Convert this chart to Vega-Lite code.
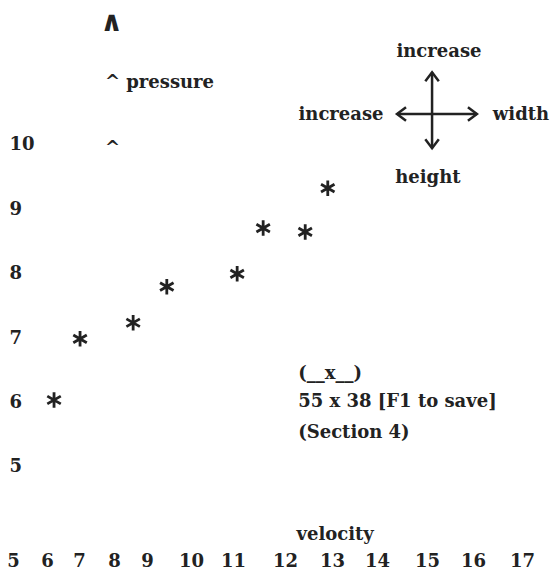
{
  "$schema": "https://vega.github.io/schema/vega-lite/v6.json",
  "width": 552,
  "height": 548,
  "autosize": "none",
  "padding": {"left": 0, "top": 0, "right": 0, "bottom": 23},
  "background": "white",
  "config": {
    "view": {"stroke": null},
    "axis": {"grid": false, "domain": false, "ticks": false, "tickSize": 0, "labelFont": "DejaVu Serif", "labelFontSize": 18, "labelFontWeight": "bold", "labelColor": "#222"},
    "text": {"font": "DejaVu Serif", "fontSize": 18, "fontWeight": "bold", "color": "#222"}
  },
  "layer": [
    {
      "data": {"values": [
        {"velocity": 6.22, "pressure": 6.04},
        {"velocity": 7.03, "pressure": 6.99},
        {"velocity": 8.58, "pressure": 7.24},
        {"velocity": 9.45, "pressure": 7.80},
        {"velocity": 11.08, "pressure": 8.0},
        {"velocity": 11.58, "pressure": 8.71},
        {"velocity": 12.43, "pressure": 8.65},
        {"velocity": 12.91, "pressure": 9.33}
      ]},
      "mark": {"type": "point", "shape": "M0,-1L0,1M-0.87,-0.5L0.87,0.5M-0.87,0.5L0.87,-0.5", "filled": false, "size": 240, "strokeWidth": 2.8, "color": "#222", "opacity": 1},
      "encoding": {
        "x": {"field": "velocity", "type": "quantitative", "title": null,
              "scale": {"domain": [5, 6, 7, 8, 9, 10, 11, 12, 13, 14, 15, 16, 17], "range": [13, 47, 79, 114, 147, 191, 233, 285, 332, 377, 427, 473, 522], "nice": false, "zero": false},
              "axis": {"values": [5, 6, 7, 8, 9, 10, 11, 12, 13, 14, 15, 16, 17], "format": "d", "labelPadding": 4, "labelAlign": "center", "labelFlush": false, "labelOverlap": false}},
        "y": {"field": "pressure", "type": "quantitative", "title": null,
              "scale": {"domain": [3.742, 12.2516], "nice": false, "zero": false},
              "axis": {"values": [5, 6, 7, 8, 9, 10], "format": "d", "labelAlign": "left", "labelPadding": -9, "labelFlush": false, "labelOverlap": false}}
      }
    },
    {
      "data": {"values": [
        {"x": 15.11, "y": 9.95, "x2": 15.11, "y2": 11.13},
        {"x": 14.4, "y": 10.48, "x2": 16.08, "y2": 10.48}
      ]},
      "mark": {"type": "rule", "strokeWidth": 2.5, "color": "#222"},
      "encoding": {
        "x": {"field": "x", "type": "quantitative"},
        "x2": {"field": "x2"},
        "y": {"field": "y", "type": "quantitative"},
        "y2": {"field": "y2"}
      }
    },
    {
      "data": {"values": [
        {"x": 15.11, "y": 11.13, "dir": "up"},
        {"x": 15.11, "y": 9.95, "dir": "down"},
        {"x": 14.4, "y": 10.48, "dir": "left"},
        {"x": 16.08, "y": 10.48, "dir": "right"}
      ]},
      "mark": {"type": "point", "filled": false, "size": 225, "strokeWidth": 2.5, "color": "#222", "opacity": 1},
      "encoding": {
        "x": {"field": "x", "type": "quantitative"},
        "y": {"field": "y", "type": "quantitative"},
        "shape": {"field": "dir", "type": "nominal", "legend": null,
                  "scale": {"domain": ["up", "down", "left", "right"], "range": ["M-0.9,1.2L0,0L0.9,1.2", "M-0.9,-1.2L0,0L0.9,-1.2", "M1.2,-0.9L0,0L1.2,0.9", "M-1.2,-0.9L0,0L-1.2,0.9"]}}
      }
    },
    {
      "data": {"values": [
        {"x": 7.74, "y": 10.885, "label": "^ pressure"},
        {"x": 7.74, "y": 9.86, "label": "^"},
        {"x": 12.28, "y": 6.366, "label": "(__x__)"},
        {"x": 12.28, "y": 5.932, "label": "55 x 38 [F1 to save]"},
        {"x": 12.28, "y": 5.45, "label": "(Section 4)"}
      ]},
      "mark": {"type": "text", "align": "left", "baseline": "alphabetic"},
      "encoding": {
        "x": {"field": "x", "type": "quantitative"},
        "y": {"field": "y", "type": "quantitative"},
        "text": {"field": "label"}
      }
    },
    {
      "data": {"values": [
        {"x": 15.26, "y": 11.366, "label": "increase"},
        {"x": 13.2, "y": 10.388, "label": "increase"},
        {"x": 16.98, "y": 10.388, "label": "width"},
        {"x": 15.02, "y": 9.41, "label": "height"},
        {"x": 13.07, "y": 3.866, "label": "velocity"}
      ]},
      "mark": {"type": "text", "align": "center", "baseline": "alphabetic"},
      "encoding": {
        "x": {"field": "x", "type": "quantitative"},
        "y": {"field": "y", "type": "quantitative"},
        "text": {"field": "label"}
      }
    },
    {
      "data": {"values": [
        {"x": 7.93, "y": 11.77, "label": "∧"}
      ]},
      "mark": {"type": "text", "align": "center", "baseline": "alphabetic", "fontSize": 28},
      "encoding": {
        "x": {"field": "x", "type": "quantitative"},
        "y": {"field": "y", "type": "quantitative"},
        "text": {"field": "label"}
      }
    }
  ]
}
